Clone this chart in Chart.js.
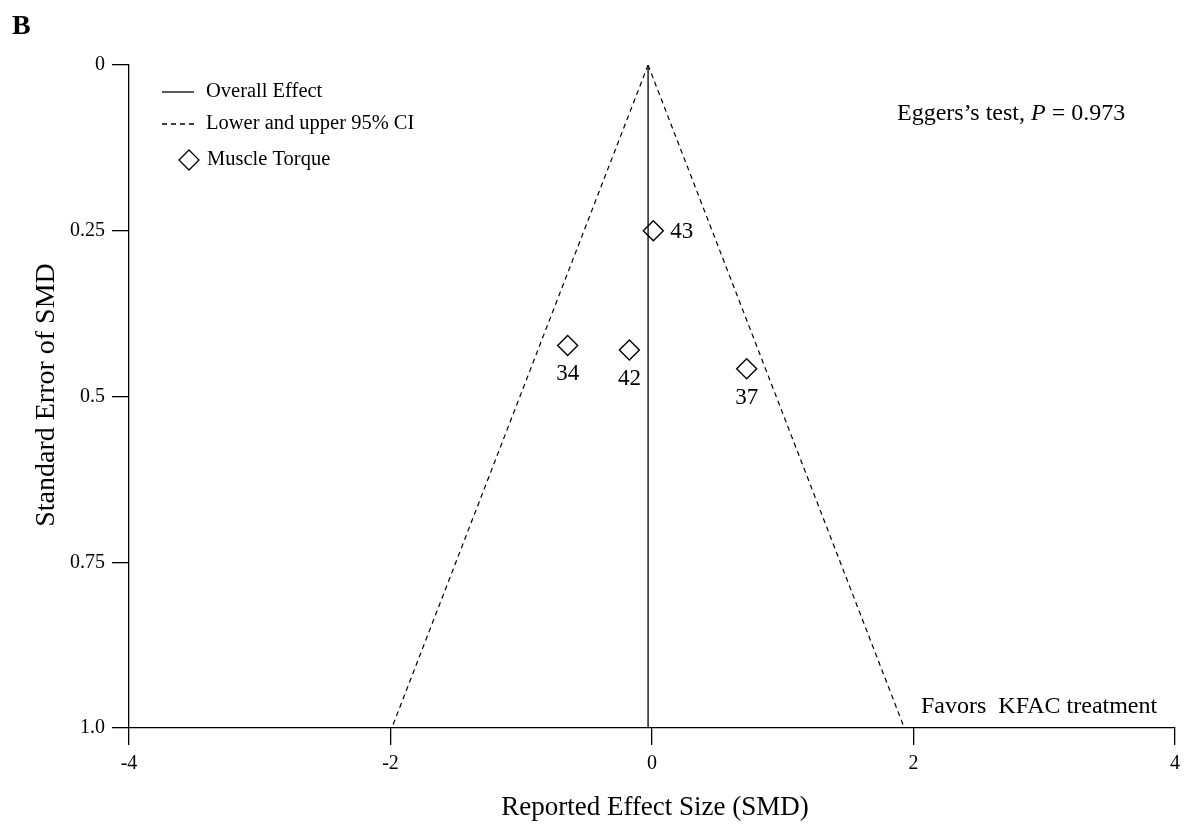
<!DOCTYPE html>
<html>
<head>
<meta charset="utf-8">
<script src="https://cdn.jsdelivr.net/npm/chart.js@4"></script>
<style>
  html, body { margin: 0; padding: 0; background: #fff; }
  #wrap { width: 1195px; height: 825px; position: relative; }
</style>
</head>
<body>
<div id="wrap"><canvas id="funnel"></canvas></div>
<script>
// study points
const studyLabels = ['43', '34', '42', '37'];
const studySMD = [0.01, -0.645, -0.173, 0.724];
const studySE = [0.250, 0.423, 0.430, 0.458];

// overall effect and 95% CI funnel (at SE = 0 and SE = 1.0)
const overallSMD = -0.03;
const funnelSE = [0, 1.0];
const lowerCI = [-0.03, -1.99];
const upperCI = [-0.03, 1.93];

const xTicks = [-4, -2, 0, 2, 4];
const yTicks = [0, 0.25, 0.5, 0.75, 1.0];
const yTickText = ['0', '0.25', '0.5', '0.75', '1.0'];

const SERIF = '"Liberation Serif", "Times New Roman", serif';

const annotations = {
    id: 'annotations',
    afterDraw(chart) {
        const ctx = chart.ctx;
        const xs = chart.scales.x, ys = chart.scales.y;
        ctx.save();
        ctx.fillStyle = '#000';
        ctx.strokeStyle = '#000';

        // panel letter
        ctx.font = 'bold 28px ' + SERIF;
        ctx.textAlign = 'left';
        ctx.textBaseline = 'alphabetic';
        ctx.fillText('B', 12, 34);

        // axis titles
        ctx.textAlign = 'center';
        ctx.textBaseline = 'middle';
        ctx.font = '27px ' + SERIF;
        ctx.fillText('Reported Effect Size (SMD)', 655, 808);
        ctx.save();
        ctx.translate(47, 395);
        ctx.rotate(-Math.PI / 2);
        ctx.font = '28px ' + SERIF;
        ctx.fillText('Standard Error of SMD', 0, 0);
        ctx.restore();

        // legend
        ctx.font = '20.5px ' + SERIF;
        ctx.textAlign = 'left';
        ctx.lineWidth = 1.3;
        ctx.beginPath();
        ctx.moveTo(162, 92); ctx.lineTo(194, 92);
        ctx.stroke();
        ctx.fillText('Overall Effect', 206, 92);
        ctx.setLineDash([5, 4]);
        ctx.beginPath();
        ctx.moveTo(162, 124); ctx.lineTo(194, 124);
        ctx.stroke();
        ctx.setLineDash([]);
        ctx.fillText('Lower and upper 95% CI', 206, 124);
        ctx.beginPath();
        ctx.moveTo(189, 150); ctx.lineTo(199, 160); ctx.lineTo(189, 170); ctx.lineTo(179, 160);
        ctx.closePath();
        ctx.stroke();
        ctx.fillText('Muscle Torque', 207, 160);

        // Egger's test
        ctx.textBaseline = 'alphabetic';
        ctx.font = '24px ' + SERIF;
        const t1 = 'Eggers\u2019s test, ';
        const t2 = 'P';
        const t3 = ' = 0.973';
        let x0 = 897;
        ctx.fillText(t1, x0, 120);
        x0 += ctx.measureText(t1).width;
        ctx.font = 'italic 24px ' + SERIF;
        ctx.fillText(t2, x0, 120);
        x0 += ctx.measureText(t2).width;
        ctx.font = '24px ' + SERIF;
        ctx.fillText(t3, x0, 120);

        ctx.fillText('Favors  KFAC treatment', 921, 713);

        // study labels
        ctx.font = '23px ' + SERIF;
        ctx.textBaseline = 'middle';
        studyLabels.forEach((lab, i) => {
            const px = xs.getPixelForValue(studySMD[i]);
            const py = ys.getPixelForValue(studySE[i]);
            if (i === 0) {
                ctx.textAlign = 'left';
                ctx.fillText(lab, px + 17, py + 1);
            } else {
                ctx.textAlign = 'center';
                ctx.fillText(lab, px, py + 29);
            }
        });
        ctx.restore();
    }
};

new Chart(document.getElementById('funnel'), {
    type: 'scatter',
    data: {
        datasets: [
            {
                label: 'Overall Effect',
                data: funnelSE.map(se => ({ x: overallSMD, y: se })),
                showLine: true,
                borderColor: '#000',
                borderWidth: 1.3,
                pointRadius: 0
            },
            {
                label: 'Lower 95% CI',
                data: funnelSE.map((se, i) => ({ x: lowerCI[i], y: se })),
                showLine: true,
                borderColor: '#000',
                borderWidth: 1.2,
                borderDash: [5, 4],
                pointRadius: 0
            },
            {
                label: 'Upper 95% CI',
                data: funnelSE.map((se, i) => ({ x: upperCI[i], y: se })),
                showLine: true,
                borderColor: '#000',
                borderWidth: 1.2,
                borderDash: [5, 4],
                pointRadius: 0
            },
            {
                label: 'Muscle Torque',
                data: studySMD.map((v, i) => ({ x: v, y: studySE[i] })),
                pointStyle: 'rectRot',
                pointRadius: 10,
                pointBorderWidth: 1.4,
                pointBorderColor: '#000',
                pointBackgroundColor: '#fff'
            }
        ]
    },
    options: {
        responsive: true,
        maintainAspectRatio: false,
        animation: false,
        layout: { padding: { top: 65, right: 20, left: 0, bottom: 0 } },
        plugins: {
            legend: { display: false },
            tooltip: { enabled: false }
        },
        scales: {
            x: {
                type: 'linear',
                min: -4,
                max: 4,
                afterFit: s => { s.height = 97; },
                afterBuildTicks: s => { s.ticks = xTicks.map(v => ({ value: v })); },
                border: { color: '#000', width: 1.3 },
                grid: { drawOnChartArea: false, drawTicks: true, tickLength: 17, color: '#000', lineWidth: 1.3 },
                ticks: { color: '#000', font: { family: SERIF, size: 20 }, padding: 7, maxRotation: 0 }
            },
            y: {
                type: 'linear',
                reverse: true,
                min: 0,
                max: 1,
                afterFit: s => { s.width = 129; },
                afterBuildTicks: s => { s.ticks = yTicks.map(v => ({ value: v })); },
                border: { color: '#000', width: 1.3 },
                grid: { drawOnChartArea: false, drawTicks: true, tickLength: 17, color: '#000', lineWidth: 1.3 },
                ticks: {
                    color: '#000',
                    font: { family: SERIF, size: 20 },
                    padding: 7,
                    callback: (v) => yTickText[yTicks.indexOf(v)]
                }
            }
        }
    },
    plugins: [annotations]
});
</script>
</body>
</html>
